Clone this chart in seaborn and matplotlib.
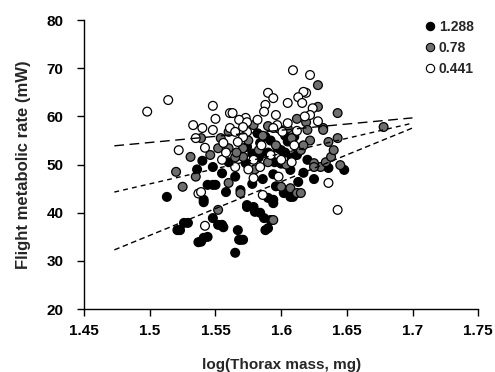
import matplotlib
matplotlib.use("Agg")
import matplotlib.pyplot as plt
import seaborn as sns
import pandas as pd
from matplotlib.lines import Line2D

# ---- data ----
black_x = [1.513,1.523,1.529,1.521,1.526,1.539,1.537,1.541,1.544,1.565,1.567,1.568,1.569,1.571,
           1.544,1.548,1.550,1.541,1.541,1.552,1.555,1.556,1.548,1.558,1.574,1.574,1.579,1.580,
           1.584,1.587,1.588,1.590,1.592,1.590,1.594,1.594,1.602,1.607,1.609,1.613,1.617,1.607,
           1.636,1.648,1.573,1.569,1.574,1.584,1.590,1.597,1.605,1.612,1.600,1.594,1.586,1.578,
           1.560,1.548,1.536,1.540,1.555,1.565,1.583,1.603,1.588,1.578,1.620,1.596,1.625,
           1.585,1.592,1.600,1.608,1.595,1.603,1.582,1.610]
black_y = [43.3,36.4,37.9,36.4,37.9,34.0,33.9,34.8,35.0,31.7,36.4,34.4,34.4,34.4,
           45.8,45.8,45.8,42.7,42.2,37.5,37.5,37.0,38.9,44.3,41.2,41.6,41.2,40.2,
           40.0,38.9,36.4,36.8,38.5,43.1,42.0,42.7,44.1,43.3,43.3,46.4,48.3,48.9,
           49.3,48.9,50.3,44.7,53.7,54.5,52.5,53.5,54.8,52.0,50.2,48.0,47.0,46.0,
           50.5,49.5,49.0,50.8,48.2,47.5,51.5,56.0,55.8,52.3,51.0,45.5,47.0,
           52.5,55.0,53.0,51.5,50.5,52.5,56.5,55.8]

grey_x = [1.525,1.560,1.552,1.569,1.594,1.607,1.612,1.615,1.600,1.630,1.625,1.625,1.634,1.645,
          1.638,1.571,1.531,1.539,1.554,1.552,1.560,1.571,1.579,1.619,1.620,1.632,1.632,1.643,
          1.636,1.643,1.628,1.678,1.586,1.596,1.608,1.615,1.583,1.565,1.604,1.590,1.622,1.598,
          1.546,1.520,1.535,1.612,1.580,1.628,1.560,1.640,1.575,1.590,1.605,1.617,1.566]
grey_y = [45.4,46.2,40.6,44.1,38.5,45.1,44.1,44.1,45.4,49.5,50.3,49.5,50.5,49.9,
          51.6,51.6,51.6,55.5,55.5,53.4,53.4,53.4,58.2,58.8,57.2,57.6,57.2,55.5,
          54.7,60.7,66.5,57.8,56.0,54.0,55.5,53.0,53.0,51.5,50.0,50.5,55.0,57.5,
          52.0,48.5,47.5,59.5,49.0,62.0,56.8,53.0,55.0,58.0,57.5,54.0,52.5]

white_x = [1.498,1.514,1.548,1.522,1.542,1.537,1.542,1.609,1.622,1.619,1.617,1.613,1.590,1.594,
           1.588,1.605,1.616,1.624,1.596,1.622,1.597,1.605,1.601,1.594,1.573,1.582,1.574,1.571,
           1.579,1.600,1.561,1.568,1.574,1.533,1.540,1.548,1.561,1.565,1.571,1.556,1.567,1.539,
           1.636,1.643,1.586,1.584,1.579,1.563,1.585,1.592,1.610,1.575,1.555,1.565,1.598,1.618,
           1.628,1.612,1.587,1.550,1.535,1.558,1.608]
white_y = [61.0,63.4,62.2,53.0,53.5,44.0,37.3,69.6,68.6,64.9,65.1,64.0,64.9,63.8,
           62.4,62.8,62.8,61.7,60.3,60.3,58.2,58.6,56.8,57.6,59.7,59.3,56.8,55.7,
           51.0,51.0,60.7,59.3,58.8,58.2,57.6,57.2,57.6,56.8,57.8,54.5,54.7,44.3,
           46.2,40.6,43.7,49.5,47.2,60.7,54.0,52.0,54.0,49.0,51.0,49.5,47.5,60.0,
           59.0,57.0,61.0,59.5,55.5,52.5,50.5]

groups = ["1.288", "0.78", "0.441"]
fit_x = [1.473, 1.700]
fit_black = [32.3, 57.6]
fit_grey = [44.3, 58.6]
fit_white = [53.9, 59.7]

x_ticks = [1.45, 1.5, 1.55, 1.6, 1.65, 1.7, 1.75]
x_tick_labels = ["1.45", "1.5", "1.55", "1.6", "1.65", "1.7", "1.75"]
y_ticks = [20, 30, 40, 50, 60, 70, 80]

# ---- build frames (series order: black, grey, white drawn last) ----
df = pd.concat([
    pd.DataFrame({"x": black_x, "y": black_y, "g": groups[0]}),
    pd.DataFrame({"x": grey_x, "y": grey_y, "g": groups[1]}),
    pd.DataFrame({"x": white_x, "y": white_y, "g": groups[2]}),
], ignore_index=True)

sns.set_style("ticks")
plt.rcParams["font.family"] = ["Liberation Sans Narrow", "Liberation Sans", "DejaVu Sans"]

fig = plt.figure(figsize=(4.95, 3.72), dpi=100)
ax = fig.add_axes([0.170, 0.169, 0.796, 0.777])

palette = {"1.288": "#000000", "0.78": "#6e6e6e", "0.441": "#ffffff"}
sns.scatterplot(data=df, x="x", y="y", hue="g", palette=palette, s=40,
                edgecolor="black", linewidth=0.9, ax=ax, legend=False, zorder=3)

fits = pd.DataFrame({
    "x": fit_x * 3,
    "y": fit_black + fit_grey + fit_white,
    "g": [groups[0]] * 2 + [groups[1]] * 2 + [groups[2]] * 2,
})
styles = {"1.288": (0, (4, 2.5)), "0.78": (0, (3.5, 3)), "0.441": (0, (7, 4))}
for g in groups:
    sub = fits[fits.g == g]
    sns.lineplot(data=sub, x="x", y="y", color="black", lw=1.0, ax=ax,
                 linestyle=styles[g], zorder=4)

ax.set_xlim(1.45, 1.75)
ax.set_ylim(20, 80)
ax.set_xticks(x_ticks)
ax.set_xticklabels(x_tick_labels)
ax.set_yticks(y_ticks)
ax.tick_params(axis="both", direction="out", length=5, width=1, labelsize=11, colors="black")
ax.tick_params(axis="y", pad=10)
ax.tick_params(axis="x", pad=6)
for lab in ax.get_xticklabels() + ax.get_yticklabels():
    lab.set_fontweight("bold")
for s in ["top", "right"]:
    ax.spines[s].set_visible(False)
for s in ["left", "bottom"]:
    ax.spines[s].set_linewidth(1.0)
    ax.spines[s].set_color("black")

ax.set_xlabel("log(Thorax mass, mg)", fontsize=11, fontweight="bold")
ax.set_ylabel("Flight metabolic rate (mW)", fontsize=12, fontweight="bold")
ax.xaxis.set_label_coords(0.5, -0.168)
ax.yaxis.set_label_coords(-0.135, 0.5)

handles = [Line2D([0], [0], marker="o", linestyle="none", markersize=6,
                  markerfacecolor=palette[g], markeredgecolor="black", markeredgewidth=0.8)
           for g in groups]
leg = ax.legend(handles, groups, loc="upper right", bbox_to_anchor=(1.01, 1.03),
                frameon=False, handletextpad=0.1, labelspacing=0.5, borderaxespad=0.2,
                handlelength=1.0, prop={"size": 10, "weight": "bold"})

fig.savefig("out.png", dpi=100)
